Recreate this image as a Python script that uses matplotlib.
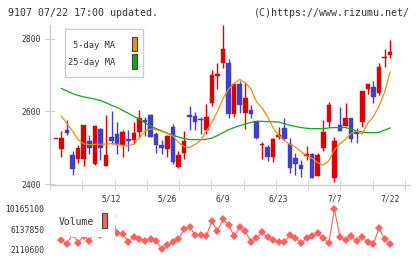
import numpy as np
import matplotlib
matplotlib.use("Agg")
import matplotlib.pyplot as plt
from matplotlib.patches import Rectangle

# ---------------- data ----------------
title_left = "9107 07/22 17:00 updated."
title_right = "(C)https://www.rizumu.net/"
date_labels = ["5/12", "5/26", "6/9", "6/23", "7/7", "7/22"]
date_index = [10, 20, 30, 40, 50, 60]
price_ticks = [2400, 2600, 2800]

opens = [2525, 2498, 2548, 2482, 2471, 2471, 2518, 2455, 2551, 2452,
         2530, 2538, 2507, 2524, 2523, 2544, 2576, 2590, 2539, 2509,
         2498, 2557, 2448, 2486, 2590, 2588, 2580, 2548, 2623, 2696,
         2733, 2733, 2594, 2675, 2596, 2603, 2573, 2507, 2503, 2475,
         2531, 2555, 2512, 2473, 2454, 2477, 2484, 2422, 2500, 2571,
         2417, 2562, 2559, 2582, 2544, 2571, 2663, 2667, 2651, 2746, 2755]
highs = [2525, 2546, 2576, 2493, 2509, 2563, 2535, 2560, 2556, 2590,
         2600, 2571, 2548, 2548, 2571, 2603, 2585, 2594, 2544, 2521,
         2535, 2565, 2493, 2546, 2614, 2599, 2585, 2620, 2713, 2733,
         2837, 2745, 2676, 2684, 2680, 2617, 2574, 2516, 2507, 2527,
         2557, 2582, 2528, 2486, 2466, 2505, 2485, 2487, 2576, 2626,
         2530, 2612, 2623, 2582, 2556, 2656, 2674, 2683, 2733, 2771, 2796]
lows = [2525, 2475, 2535, 2427, 2459, 2450, 2484, 2454, 2468, 2450,
        2512, 2484, 2475, 2492, 2512, 2530, 2532, 2529, 2486, 2484,
        2475, 2457, 2446, 2471, 2548, 2548, 2539, 2539, 2614, 2663,
        2718, 2583, 2585, 2596, 2553, 2581, 2525, 2471, 2464, 2461,
        2526, 2526, 2432, 2427, 2420, 2468, 2417, 2422, 2492, 2557,
        2406, 2546, 2559, 2516, 2514, 2557, 2649, 2623, 2645, 2722, 2747]
closes = [2525, 2527, 2541, 2442, 2501, 2562, 2500, 2559, 2500, 2480,
          2518, 2507, 2544, 2518, 2541, 2581, 2572, 2530, 2509, 2500,
          2532, 2461, 2480, 2518, 2584, 2571, 2576, 2584, 2700, 2704,
          2772, 2594, 2675, 2619, 2636, 2592, 2527, 2512, 2475, 2525,
          2535, 2526, 2446, 2455, 2442, 2484, 2417, 2480, 2544, 2617,
          2518, 2546, 2582, 2524, 2537, 2656, 2674, 2640, 2722, 2748, 2762]

nan = float("nan")
ma5 = [nan, 2587, 2567, 2546, 2523, 2511, 2509, 2510, 2510, 2511,
       2512, 2510, 2507, 2505, 2511, 2528, 2546, 2552, 2550, 2546,
       2540, 2533, 2515, 2504, 2501, 2510, 2521, 2546, 2570, 2600,
       2636, 2662, 2676, 2688, 2678, 2663, 2627, 2610, 2585, 2555,
       2535, 2520, 2510, 2503, 2490, 2478, 2472, 2460, 2453, 2465,
       2495, 2512, 2524, 2540, 2547, 2538, 2568, 2586, 2615, 2652, 2708]
ma25 = [nan, 2663, 2656, 2649, 2644, 2640, 2637, 2634, 2630, 2624,
        2617, 2611, 2603, 2595, 2587, 2578, 2569, 2560, 2553, 2547,
        2541, 2535, 2530, 2526, 2523, 2523, 2523, 2524, 2527, 2534,
        2542, 2550, 2556, 2561, 2566, 2570, 2573, 2573, 2572, 2572,
        2571, 2567, 2562, 2559, 2556, 2554, 2553, 2553, 2553, 2555,
        2556, 2556, 2556, 2552, 2547, 2544, 2542, 2542, 2543, 2549, 2555]
volume = [nan, 3969000, 3170000, 5200000, 3430000, 4800000, 3830000, 5600000, 5000000, 5400000,
          8800000, 5310000, 5170000, 3570000, 4630000, 4230000, 3830000, 4110000, 3830000, 2110600,
          2970000, 3510000, 4110000, 6110000, 6630000, 4970000, 4970000, 4830000, 7710000, 5770000,
          8110000, 6970000, 4770000, 6510000, 5770000, 3630000, 4310000, 5510000, 4510000, 3910000,
          3630000, 3510000, 4970000, 4310000, 3430000, 4310000, 4770000, 5310000, 4310000, 3310000,
          10165100, 4510000, 3910000, 4770000, 3770000, 4510000, 3510000, 3170000, 6310000, 4110000, 3170000]

# ---------------- figure ----------------
W, H = 420, 259
fig = plt.figure(figsize=(W / 100, H / 100), dpi=100)
fig.patch.set_facecolor("white")

def fx(px):
    return px / W

def fy(py):
    return 1 - py / H

MONO = "DejaVu Sans Mono"
GRID = "#cccccc"
TXT = "#333333"
RED = "#d80000"
BLUE = "#4040c0"

# main price axes
ax = fig.add_axes([fx(50), fy(185), fx(410) - fx(50), fy(25) - fy(185)])
x = np.arange(len(opens))
o = np.array(opens, float)
c = np.array(closes, float)
h = np.array(highs, float)
l = np.array(lows, float)
up = c >= o
cols = np.where(up, RED, BLUE)

ax.vlines(x, l, h, colors=cols, linewidth=1.0, zorder=2)
bottom = np.minimum(o, c)
height = np.maximum(np.abs(c - o), 1.5)
ax.bar(x, height, bottom=bottom, width=0.82, color=cols, edgecolor=cols,
       linewidth=0.3, zorder=3)

ax.plot(x, ma25, color="#10a810", linewidth=0.9, zorder=4)
ax.plot(x, ma5, color="#f08c10", linewidth=0.9, zorder=4)

ax.set_xlim(-1.06, 63.57)
ax.set_ylim(2398.6, 2837)
for s in ["top", "right"]:
    ax.spines[s].set_visible(False)
for s in ["left", "bottom"]:
    ax.spines[s].set_color(GRID)
    ax.spines[s].set_linewidth(1.0)

ax.set_yticks(price_ticks)
ax.set_yticklabels([str(v) for v in price_ticks], fontfamily=MONO, fontsize=5.8, color=TXT)
ax.tick_params(axis="y", direction="inout", length=6.5, color=GRID, pad=3.5)

ax.set_xticks(date_index)
ax.set_xticklabels(date_labels, fontfamily=MONO, fontsize=5.8, color=TXT)
ax.tick_params(axis="x", which="major", length=0, pad=6.5)
minor = ax.get_xlim()[0] + np.arange(12) * 5.794
ax.set_xticks(minor, minor=True)
ax.tick_params(axis="x", which="minor", direction="inout", length=7, color=GRID)

# main legend
fig.add_artist(Rectangle((fx(65), fy(76.7)), fx(143.3) - fx(65), fy(29.3) - fy(76.7),
                         transform=fig.transFigure, facecolor="white",
                         edgecolor=GRID, linewidth=1.0, zorder=5))
fig.text(fx(115), fy(45.5), "5-day MA", ha="right", va="center",
         fontfamily=MONO, fontsize=6.3, color=TXT, zorder=6)
fig.text(fx(115), fy(62.5), "25-day MA", ha="right", va="center",
         fontfamily=MONO, fontsize=6.3, color=TXT, zorder=6)
fig.add_artist(Rectangle((fx(131.5), fy(50.7)), fx(137) - fx(131.5), fy(36.7) - fy(50.7),
                         transform=fig.transFigure, facecolor="#f08c10",
                         edgecolor="#444444", linewidth=0.8, zorder=6))
fig.add_artist(Rectangle((fx(131.5), fy(69)), fx(137) - fx(131.5), fy(54) - fy(69),
                         transform=fig.transFigure, facecolor="#10a810",
                         edgecolor="#444444", linewidth=0.8, zorder=6))

# volume axes
vol = np.array(volume, float)
vmin, vmax = np.nanmin(vol), np.nanmax(vol)
axv = fig.add_axes([fx(50), fy(249.3), fx(410) - fx(50), fy(209) - fy(249.3)])
axv.plot(x, vol, color="#ff6060", linewidth=0.8, marker="D", markersize=3.6,
         markeredgewidth=0, clip_on=False, zorder=2)
axv.set_xlim(ax.get_xlim())
axv.set_ylim(vmin, vmax)
for s in axv.spines.values():
    s.set_visible(False)
axv.set_xticks([])
vt = [vmin, (vmin + vmax) / 2, vmax]
axv.set_yticks(vt)
axv.set_yticklabels([f"{int(round(v))}" for v in vt], fontfamily=MONO, fontsize=5.8, color=TXT)
axv.tick_params(axis="y", length=0, pad=4.2)

# volume legend (white box covering the line)
fig.add_artist(Rectangle((fx(56), fy(237)), fx(115) - fx(56), fy(209) - fy(237),
                         transform=fig.transFigure, facecolor="white",
                         edgecolor="none", zorder=5))
fig.text(fx(59), fy(222), "Volume", ha="left", va="center",
         fontfamily=MONO, fontsize=7.0, color=TXT, zorder=6)
fig.add_artist(Rectangle((fx(101.7), fy(228.3)), fx(107.3) - fx(101.7), fy(213.3) - fy(228.3),
                         transform=fig.transFigure, facecolor="#ff6060",
                         edgecolor="#444444", linewidth=0.8, zorder=6))

# header texts
fig.text(fx(8), fy(13), title_left, ha="left", va="center",
         fontfamily=MONO, fontsize=7.2, color=TXT)
fig.text(fx(410), fy(13), title_right, ha="right", va="center",
         fontfamily=MONO, fontsize=7.2, color=TXT)

fig.savefig("out.png", dpi=100, facecolor="white")
